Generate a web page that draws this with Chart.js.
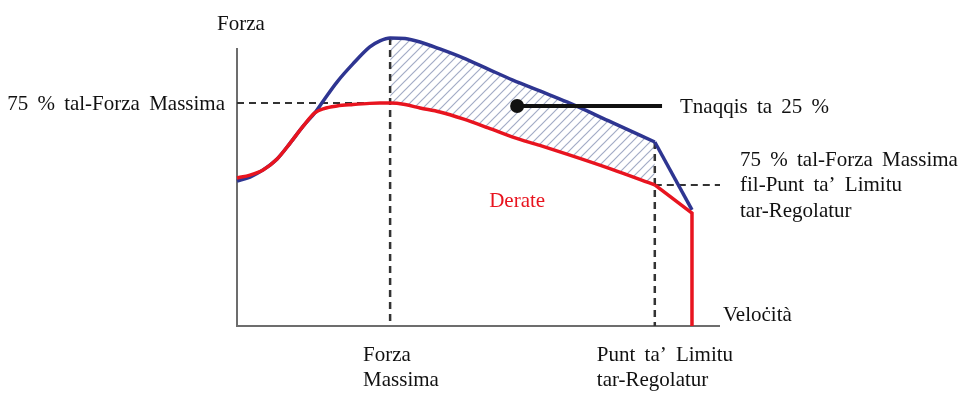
<!DOCTYPE html>
<html>
<head>
<meta charset="utf-8">
<script src="https://cdn.jsdelivr.net/npm/chart.js@4.4.0/dist/chart.umd.min.js"></script>
<style>
  html, body { margin: 0; padding: 0; background: #fff; }
  canvas { display: block; }
</style>
</head>
<body>
<canvas id="chart" width="960" height="401"></canvas>
<script>
// velocity (x) and force (y) in % of the axes
const velocity = [0, 2.7, 5.4, 8.3, 11, 13.7, 16.1, 18, 20.7, 24, 27.5, 29.6, 31.7, 34.8, 37.9, 42, 46.8, 52, 57.1, 62.7, 68.3, 77.5, 86.5, 94.2];
const forza = [50.3, 51.7, 54.2, 58.0, 63.5, 69.4, 74.0, 78.5, 84.7, 91.0, 96.9, 99.0, 100, 99.8, 98.6, 96.2, 93.1, 89.2, 85.4, 81.6, 77.8, 70.8, 63.9, 40.3];
const derate = [51.4, 52.4, 54.2, 58.0, 63.5, 69.4, 74.0, 75.5, 76.4, 76.9, 77.3, 77.4, 77.4, 76.9, 75.7, 74.3, 71.9, 68.8, 65.6, 62.7, 59.7, 54.5, 49.0, 39.2];

// landmarks
const peakIdx = 12;     // Forza Massima
const limitIdx = 22;    // Punt ta' Limitu tar-Regolatur
const axisEnd = [100, 96.5];          // x axis length, y axis height
const leader = [58, 76.4, 88];        // dot x, y, line end x
const deratePos = [58, 43.7];

const txtY = 'Forza';
const txtX = 'Veloċità';
const txt75 = '75 % tal-Forza Massima';
const txtCut = 'Tnaqqis ta 25 %';
const txtLimit = ['75 % tal-Forza Massima', 'fil-Punt ta\u2019 Limitu', 'tar-Regolatur'];
const txtDerate = 'Derate';
const tickPeak = ['Forza', 'Massima'];
const tickLimit = ['Punt ta\u2019 Limitu', 'tar-Regolatur'];

const BLUE = '#2e3591';
const RED = '#e8141f';
const DASH = '#333333';

const pts = (xs, ys) => xs.map((x, i) => ({ x, y: ys[i] }));
const part = (arr, a, b) => arr.slice(a, b + 1);
const last = velocity.length - 1;
const vPeak = velocity[peakIdx], vLim = velocity[limitIdx], vEnd = velocity[last];

function hatchPattern(ctx) {
    const c = document.createElement('canvas');
    c.width = c.height = 9;
    const g = c.getContext('2d');
    g.strokeStyle = '#a3acc6';
    g.lineWidth = 1.2;
    g.beginPath();
    g.moveTo(0, 9); g.lineTo(9, 0);
    g.moveTo(-1, 1); g.lineTo(1, -1);
    g.moveTo(8, 10); g.lineTo(10, 8);
    g.stroke();
    return ctx.createPattern(c, 'repeat');
}

const line = (data, extra) => Object.assign({
    data, pointRadius: 0, borderWidth: 2, tension: 0, fill: false, clip: false
}, extra);
const smooth = { cubicInterpolationMode: 'monotone' };

const textPlugin = {
    id: 'texts',
    afterDraw(chart) {
        const { ctx, scales: { x, y } } = chart;
        const x0 = x.getPixelForValue(0), y0 = y.getPixelForValue(0);
        ctx.save();
        ctx.font = '21px "Liberation Serif", serif';
        ctx.wordSpacing = '4px';
        ctx.fillStyle = '#111';

        ctx.textAlign = 'center';
        ctx.fillText(txtY, x0 + 4, y.getPixelForValue(axisEnd[1]) - 18);

        ctx.textAlign = 'right';
        ctx.fillText(txt75, x0 - 12, y.getPixelForValue(derate[peakIdx]) + 7);

        ctx.textAlign = 'left';
        ctx.fillText(txtCut, x.getPixelForValue(leader[2]) + 18, y.getPixelForValue(leader[1]) + 7);

        const ly = y.getPixelForValue(derate[limitIdx]);
        txtLimit.forEach((t, i) => ctx.fillText(t, x.getPixelForValue(axisEnd[0]) + 20, ly - 19 + i * 25.5));

        ctx.fillText(txtX, x.getPixelForValue(axisEnd[0]) + 3, y0 - 5);

        tickPeak.forEach((t, i) => ctx.fillText(t, x.getPixelForValue(vPeak) - 27, y0 + 35 + i * 25));
        tickLimit.forEach((t, i) => ctx.fillText(t, x.getPixelForValue(vLim) - 58, y0 + 35 + i * 25));

        ctx.textAlign = 'center';
        ctx.fillStyle = RED;
        ctx.fillText(txtDerate, x.getPixelForValue(deratePos[0]), y.getPixelForValue(deratePos[1]) + 7);
        ctx.restore();
    }
};

const ctx = document.getElementById('chart').getContext('2d');

new Chart(ctx, {
    type: 'line',
    data: {
        datasets: [
            // hatched band between the two curves
            line(pts(part(velocity, peakIdx, limitIdx), part(derate, peakIdx, limitIdx)),
                Object.assign({ borderWidth: 0, borderColor: 'transparent', order: 6 }, smooth)),
            line(pts(part(velocity, peakIdx, limitIdx), part(forza, peakIdx, limitIdx)),
                Object.assign({ borderWidth: 0, borderColor: 'transparent', fill: 0, backgroundColor: hatchPattern(ctx), order: 5 }, smooth)),
            // axes
            line([{ x: 0, y: axisEnd[1] }, { x: 0, y: 0 }, { x: axisEnd[0], y: 0 }],
                { borderColor: '#6d6d6d', borderWidth: 2, order: 4 }),
            // dashed guides
            line([{ x: 0, y: derate[peakIdx] }, { x: vPeak, y: derate[peakIdx] }],
                { borderColor: DASH, borderDash: [7, 5], order: 3 }),
            line([{ x: vPeak, y: forza[peakIdx] }, { x: vPeak, y: 0 }],
                { borderColor: DASH, borderDash: [7, 5], borderWidth: 2.5, order: 3 }),
            line([{ x: vLim, y: forza[limitIdx] }, { x: vLim, y: 0 }],
                { borderColor: DASH, borderDash: [7, 5], borderWidth: 2.5, order: 3 }),
            line([{ x: vLim, y: derate[limitIdx] }, { x: axisEnd[0], y: derate[limitIdx] }],
                { borderColor: DASH, borderDash: [7, 5], order: 3 }),
            // blue curve: smooth part, then straight drop to the regulator limit
            line(pts(part(velocity, 0, limitIdx), part(forza, 0, limitIdx)),
                Object.assign({ borderColor: BLUE, borderWidth: 3.5, order: 2 }, smooth)),
            line(pts(part(velocity, limitIdx, last), part(forza, limitIdx, last)),
                { borderColor: BLUE, borderWidth: 3.5, order: 2 }),
            // red (derated) curve
            line(pts(part(velocity, 0, limitIdx), part(derate, 0, limitIdx)),
                Object.assign({ borderColor: RED, borderWidth: 3.5, order: 1 }, smooth)),
            line(pts(part(velocity, limitIdx, last), part(derate, limitIdx, last)).concat([{ x: vEnd, y: 0 }]),
                { borderColor: RED, borderWidth: 3.5, borderJoinStyle: 'miter', order: 1 }),
            // leader to "Tnaqqis ta 25 %"
            line([{ x: leader[0], y: leader[1] }, { x: leader[2], y: leader[1] }],
                { borderColor: '#111', borderWidth: 4, pointRadius: [7, 0], pointBackgroundColor: '#111', pointBorderWidth: 0, order: 0 })
        ]
    },
    options: {
        responsive: false,
        animation: false,
        layout: { padding: { left: 237, right: 240, top: 38, bottom: 75 } },
        scales: {
            x: { type: 'linear', min: 0, max: 100, display: false },
            y: { min: 0, max: 100, display: false }
        },
        plugins: {
            legend: { display: false },
            tooltip: { enabled: false }
        }
    },
    plugins: [textPlugin]
});
</script>
</body>
</html>
